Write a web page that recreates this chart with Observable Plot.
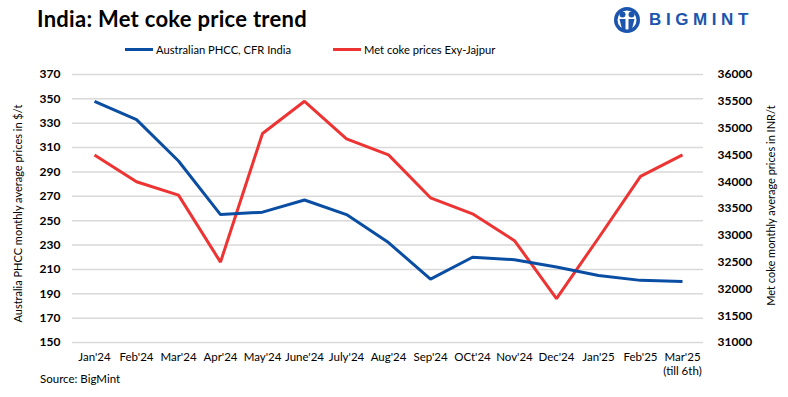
<!DOCTYPE html>
<html>
<head>
<meta charset="utf-8">
<script src="https://cdn.jsdelivr.net/npm/d3@7"></script>
<script src="https://cdn.jsdelivr.net/npm/@observablehq/plot@0.6"></script>
<style>
  html, body { margin: 0; padding: 0; background: #fff; }
  body { width: 788px; height: 397px; overflow: hidden; font-family: Lato, "Open Sans", sans-serif; }
  #wrap { position: relative; width: 788px; height: 397px; }
  #chart { position: absolute; left: 0; top: 0; }
  .abs { position: absolute; white-space: nowrap; color: #000; }
  #title { left: 37px; top: 5px; font-size: 22px; font-weight: bold; letter-spacing: 0.28px; }
  .leg { top: 43px; font-size: 11.2px; display: flex; align-items: center; }
  .leg span.sw { display: inline-block; width: 28px; height: 3px; margin-right: 3px; }
  #source { left: 40px; top: 372px; font-size: 11.5px; }
  .ytitle { font-size: 11px; transform-origin: center center; }
  #logo { left: 613px; top: 6px; display: flex; align-items: center; }
  #logo .txt { font-family: "Liberation Sans", Arial, sans-serif; font-weight: bold; font-size: 17px; letter-spacing: 4.6px; color: #1b55ad; margin-left: 8px; }
</style>
</head>
<body>
<div id="wrap">
  <div id="chart"></div>
  <div class="abs" id="title">India: Met coke price trend</div>
  <div class="abs leg" id="leg1" style="left:125px"><span class="sw" style="background:#0a4ea3"></span>Australian PHCC, CFR India</div>
  <div class="abs leg" id="leg2" style="left:333px"><span class="sw" style="background:#ee3333"></span>Met coke prices Exy-Jajpur</div>
  <div class="abs" id="logo">
    <svg width="28" height="28" viewBox="0 0 28 28">
      <circle cx="14" cy="14" r="13" fill="#1b55ad"/>
      <circle cx="14" cy="14" r="9.5" fill="#fff"/>
      <circle cx="9.5" cy="8.5" r="3" fill="#1b55ad"/>
      <circle cx="18.5" cy="8.5" r="3" fill="#1b55ad"/>
      <path d="M6.5 13 h6 v12 h-3 z" fill="#1b55ad"/>
      <path d="M15.5 13 h6 l-3 12 h-3 z" fill="#1b55ad"/>
    </svg>
    <span class="txt">BIGMINT</span>
  </div>
  <div class="abs" id="source">Source: BigMint</div>
  <div class="abs ytitle" id="ylt">Australia PHCC monthly average prices in $/t</div>
  <div class="abs ytitle" id="yrt">Met coke monthly average prices in INR/t</div>
</div>
<script>
const months = ["Jan'24","Feb'24","Mar'24","Apr'24","May'24","June'24","July'24","Aug'24","Sep'24","OCt'24","Nov'24","Dec'24","Jan'25","Feb'25","Mar'25"];
const monthLabels = ["Jan'24","Feb'24","Mar'24","Apr'24","May'24","June'24","July'24","Aug'24","Sep'24","OCt'24","Nov'24","Dec'24","Jan'25","Feb'25","Mar'25\n(till 6th)"];
const phcc = [348, 333, 299, 255, 257, 267, 255, 232, 202, 220, 218, 212, 205, 201, 200];
const metCoke = [34500, 34000, 33750, 32500, 34900, 35500, 34800, 34500, 33700, 33400, 32900, 31820, 32950, 34100, 34500];
const leftTicks = [150, 170, 190, 210, 230, 250, 270, 290, 310, 330, 350, 370];
const rightTicks = [31000, 31500, 32000, 32500, 33000, 33500, 34000, 34500, 35000, 35500, 36000];

const blue = "#0a4ea3", red = "#ee3333";
const lMin = 150, lMax = 370, rMin = 31000, rMax = 36000;
const toLeft = v => lMin + (v - rMin) * (lMax - lMin) / (rMax - rMin);
const fromLeft = v => rMin + (v - lMin) * (rMax - rMin) / (lMax - lMin);

const blueData = months.map((m, i) => ({m, v: phcc[i]}));
const redData = months.map((m, i) => ({m, v: toLeft(metCoke[i])}));
const labelOf = Object.fromEntries(months.map((m, i) => [m, monthLabels[i]]));

const chart = Plot.plot({
  width: 788,
  height: 397,
  marginTop: 74,
  marginBottom: 55,
  marginLeft: 72,
  marginRight: 85,
  style: {fontFamily: "Lato, 'Open Sans', sans-serif", fontSize: "11.5px", color: "#000", background: "#fff"},
  x: {type: "point", domain: months, padding: 0.5, align: 0.5},
  y: {domain: [lMin, lMax]},
  marks: [
    Plot.gridY(leftTicks, {stroke: "#d9d9d9", strokeOpacity: 1, strokeWidth: 1.5}),
    Plot.axisY({ticks: leftTicks, anchor: "left", tickSize: 0, tickPadding: 12, fontWeight: "bold", fontSize: 12, label: null}),
    Plot.axisY({ticks: rightTicks.map(toLeft), anchor: "right", tickSize: 0, tickPadding: 14, fontWeight: "bold", fontSize: 12, tickFormat: d => String(Math.round(fromLeft(d))), label: null}),
    Plot.axisX({tickSize: 0, tickPadding: 9, fontSize: 11.5, tickFormat: d => labelOf[d], label: null, lineHeight: 1.2}),
    Plot.line(redData, {x: "m", y: "v", stroke: red, strokeWidth: 3, strokeLinejoin: "miter", strokeLinecap: "butt"}),
    Plot.line(blueData, {x: "m", y: "v", stroke: blue, strokeWidth: 3, strokeLinejoin: "miter", strokeLinecap: "butt"})
  ]
});
document.getElementById("chart").appendChild(chart);

// position rotated axis titles centered at given points
function placeRot(id, cx, cy, deg) {
  const el = document.getElementById(id);
  const w = el.offsetWidth, h = el.offsetHeight;
  el.style.left = (cx - w / 2) + "px";
  el.style.top = (cy - h / 2) + "px";
  el.style.transform = `rotate(${deg}deg)`;
}
placeRot("ylt", 17, 213, -90);
placeRot("yrt", 770, 205, -90);
</script>
</body>
</html>
